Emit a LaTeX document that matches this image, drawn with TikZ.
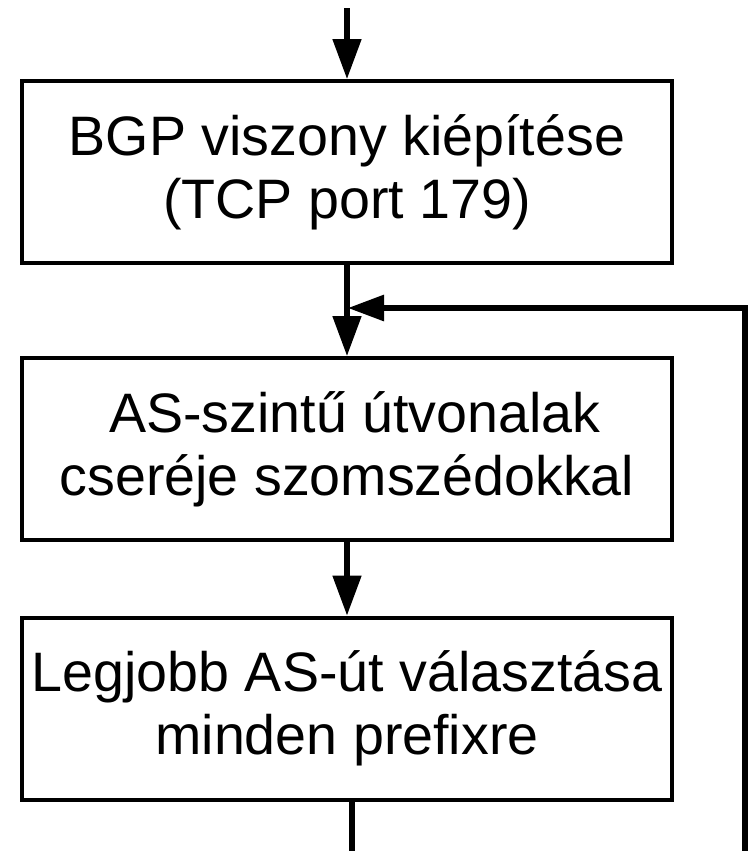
\documentclass[tikz,border=0pt]{standalone}
\usepackage{fontspec}
\setmainfont{Liberation Sans}
\usetikzlibrary{arrows.meta}
\begin{document}
\begin{tikzpicture}[x=0.75pt,y=-0.75pt,
  stepbox/.style={draw,line width=3pt,minimum width=487.5pt,minimum height=136.5pt,
    inner sep=0pt,align=center,font=\fontsize{41.7pt}{47pt}\selectfont},
  conn/.style={line width=3.8pt,line join=miter},
  arr/.style={conn,-{Triangle[length=30pt,width=21pt]}},
  arrl/.style={conn,-{Triangle[length=27pt,width=19pt]}}]
\useasboundingbox (0,0) rectangle (754,851);
\node[stepbox] (b1) at (347,172) {BGP viszony kiépítése\\(TCP port 179)};
\node[stepbox] (b2) at (347,449) {\hspace*{0.28em}AS-szintű útvonalak\\cseréje szomszédokkal};
\node[stepbox] (b3) at (347,708.5) {Legjobb AS-út választása\\minden prefixre};
\coordinate (top) at (347,8);
\coordinate (bot) at (352,851);
\coordinate (rbot) at (745,851);
\coordinate (rtop) at (745,308);
\coordinate (merge) at (348,308);
\draw[arr] (top) -- (b1.north);
\draw[arr] (b1.south) -- (b2.north);
\draw[arr] (b2.south) -- (b3.north);
\draw[conn] (b3.south -| bot) -- (bot);
\draw[arrl] (rbot) -- (rtop) -- (merge);
\end{tikzpicture}
\end{document}
